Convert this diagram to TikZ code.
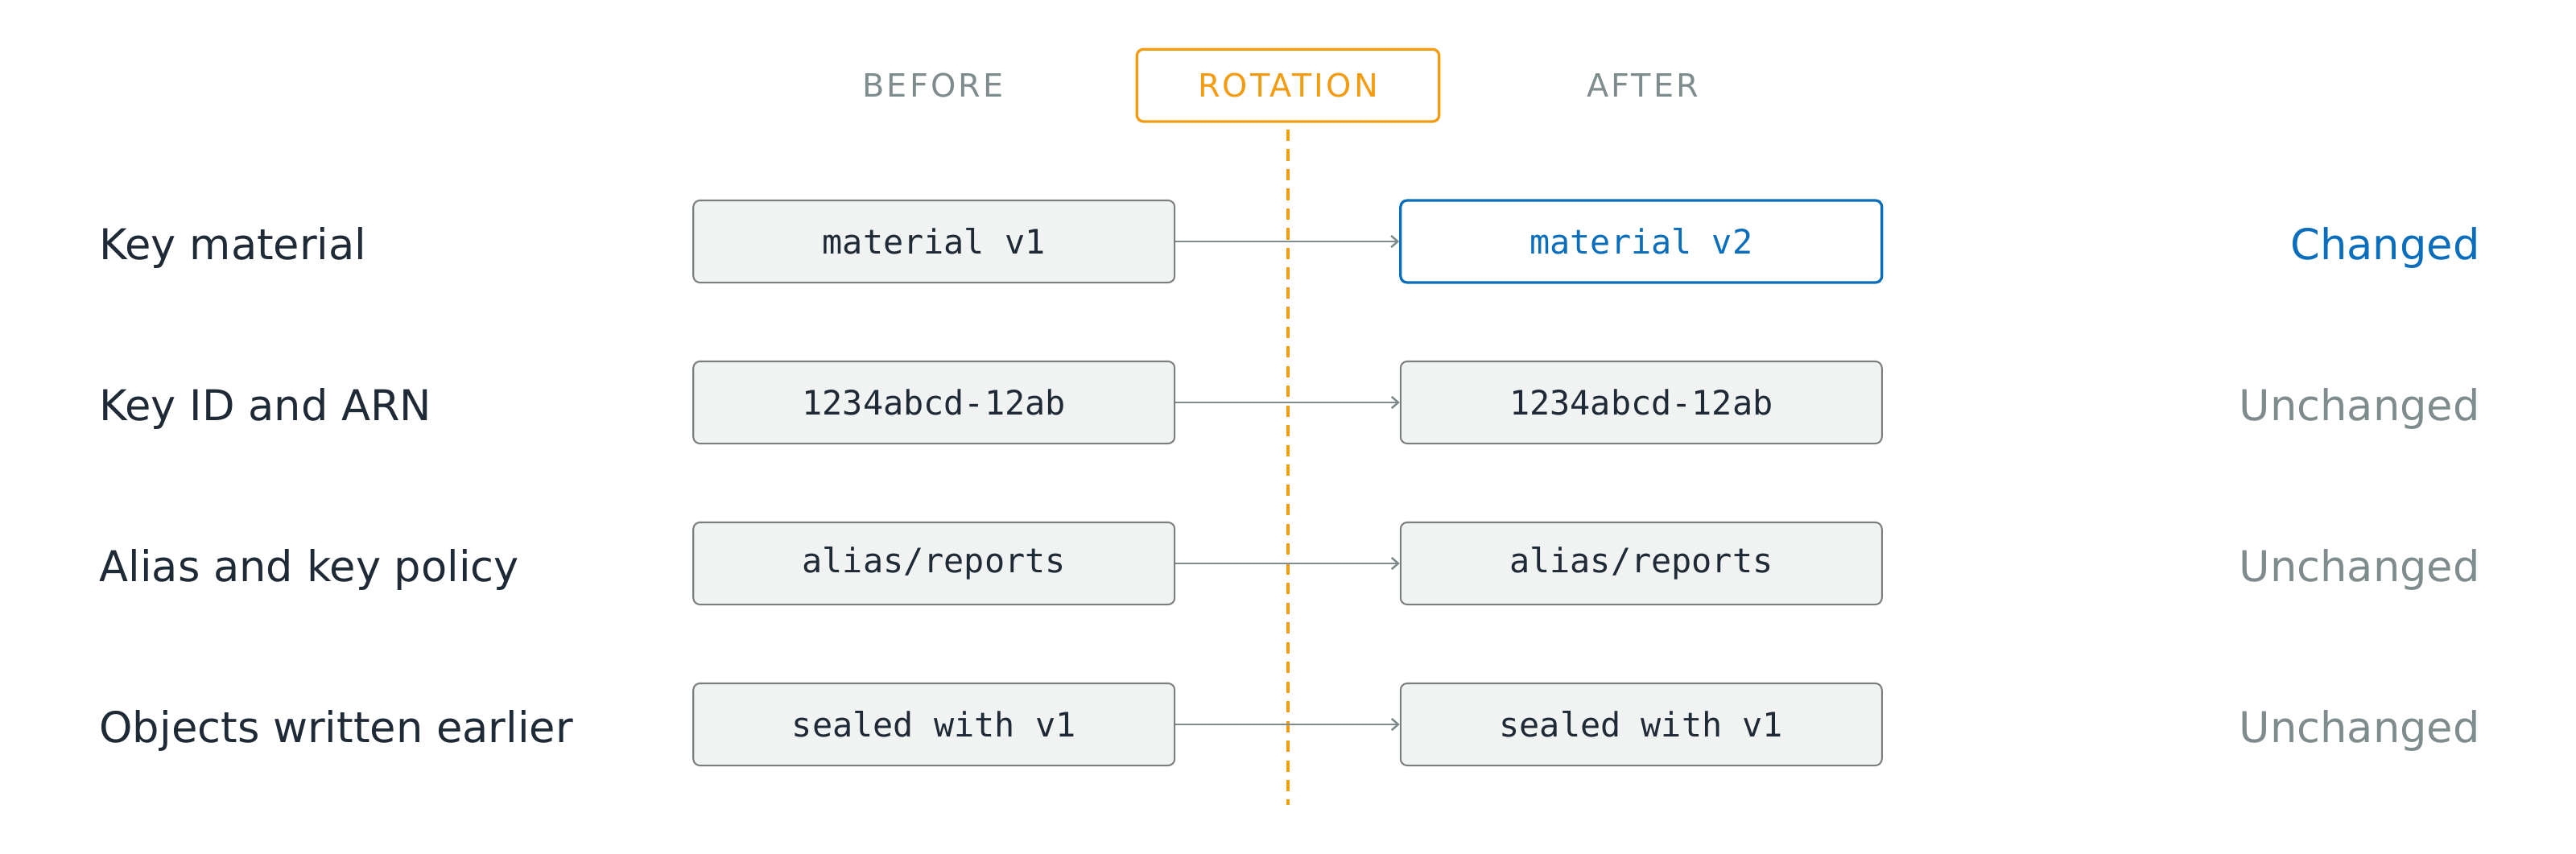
\documentclass[tikz,border=0pt]{standalone}
\usepackage{fontspec}
\setmainfont{DejaVu Sans}
\setmonofont{DejaVu Sans Mono}
\newfontfamily\hdrfont[LetterSpace=8]{DejaVu Sans}
\usetikzlibrary{arrows.meta,positioning}
\definecolor{ink}{HTML}{1F2A37}
\definecolor{mute}{HTML}{7F8C8D}
\definecolor{keyblue}{HTML}{0A6EBD}
\definecolor{rotor}{HTML}{F39C12}
\definecolor{boxfill}{HTML}{F1F3F2}
\definecolor{boxline}{HTML}{7A7F80}
\begin{document}
\begin{tikzpicture}[
    x=1pt, y=1pt,
    box/.style={rectangle, rounded corners=4pt, draw=boxline, line width=1pt, fill=boxfill,
        minimum width=293pt, minimum height=50pt, font=\fontsize{20.5}{20.5}\ttfamily, text=ink},
    newbox/.style={box, draw=keyblue, line width=1.6pt, fill=white, text=keyblue},
    head/.style={font=\fontsize{19.5}{19.5}\hdrfont, text=mute},
    label/.style={anchor=west, font=\fontsize{25.8}{25.8}\selectfont, text=ink},
    status/.style={anchor=east, font=\fontsize{25.8}{25.8}\selectfont, text=mute},
    arrow/.style={-{Straight Barb[length=4pt,width=7pt]}, draw=mute, line width=1.2pt}
]
    \useasboundingbox (0,0) rectangle (1568,-519.4);

    \node[head] (before) at (568,-52) {BEFORE};
    \node[head, text=rotor, draw=rotor, line width=1.6pt, rounded corners=4pt,
        minimum width=184pt, minimum height=44pt] (rot) at (784,-52) {ROTATION};
    \node[head] (after) at (1000,-52) {AFTER};
    \coordinate (cut) at (784,-490);
    \draw[rotor, line width=1.6pt, dash pattern=on 7pt off 5pt] (rot.south)++(0,-4pt) -- (cut);

    % rows
    \foreach \y/\name/\txt/\lbl in {
        147/a/{material v1}/{Key material},
        245/b/{1234abcd-12ab}/{Key ID and ARN},
        343/c/{alias/reports}/{Alias and key policy},
        441/d/{sealed with v1}/{Objects written earlier}} {
        \node[label] (l\name) at (57,-\y-4) {\lbl};
        \node[box] (old\name) at (568.5,-\y) {\txt};
    }
    \node[newbox] (newa) at (999,-147) {material v2};
    \node[box] (newb) at (999,-245) {1234abcd-12ab};
    \node[box] (newc) at (999,-343) {alias/reports};
    \node[box] (newd) at (999,-441) {sealed with v1};

    \node[status, text=keyblue] (sa) at (1513,-151) {Changed};
    \node[status] (sb) at (1513,-249) {Unchanged};
    \node[status] (sc) at (1513,-347) {Unchanged};
    \node[status] (sd) at (1513,-445) {Unchanged};

    \foreach \n in {a,b,c,d}
        \draw[arrow] (old\n) -- (new\n);
\end{tikzpicture}
\end{document}
